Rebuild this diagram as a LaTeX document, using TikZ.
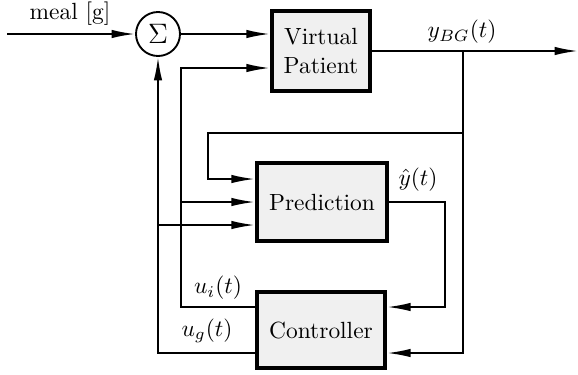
\documentclass[tikz,border=0pt]{standalone}
\usepackage{amsmath,amssymb}
\usetikzlibrary{arrows.meta,calc}

\tikzset{
  block/.style={draw, line width=1.8pt, fill=black!6, align=center, inner sep=2pt},
  sumnode/.style={draw, circle, line width=0.8pt, minimum size=0.66cm, inner sep=0pt},
  conn/.style={line width=0.8pt},
  arr/.style={conn, -{Latex[length=10pt,width=3.6pt]}},
}

\begin{document}
\begin{tikzpicture}[x=0.015cm,y=-0.015cm]
\useasboundingbox (0,0) rectangle (578,374);
% blocks
\node[sumnode] (sum) at (158,34) {\large$\Sigma$};
\node[block, minimum width=1.47cm, minimum height=1.19cm] (vp) at (321,51) {Virtual\\Patient};
\node[block, minimum width=1.95cm, minimum height=1.16cm] (pred) at (322,202) {Prediction};
\node[block, minimum width=1.92cm, minimum height=1.14cm] (ctrl) at (321,330) {Controller};

% ports
\coordinate (vpin2) at ([yshift=-0.255cm]vp.west);
\coordinate (pin1) at ([yshift=0.345cm]pred.west);
\coordinate (pin3) at ([yshift=-0.345cm]pred.west);
\coordinate (cin1) at ([yshift=0.345cm]ctrl.east);
\coordinate (cin2) at ([yshift=-0.345cm]ctrl.east);
\coordinate (cout1) at ([yshift=0.345cm]ctrl.west);
\coordinate (cout2) at ([yshift=-0.345cm]ctrl.west);
\coordinate (in) at (7,34);
\coordinate (out) at (578,51);
\coordinate (tap) at (463,51);
\coordinate (ret) at (208,133);

% labels
\node (meal) at (70,14) {meal [g]};
\node (ybg) at (462,32) {$y_{BG}(t)$};
\node[inner sep=1pt] (yhat) at (418,180) {$\hat{y}(t)$};
\node (ui) at (218,288) {$u_i(t)$};
\node (ug) at (207,331) {$u_g(t)$};

% forward path
\draw[arr] (in) -- (sum);
\draw[arr] (sum) -- (sum -| vp.west);
\draw[arr] (vp.east) -- (out);

% measured glucose back to prediction and controller
\draw[arr] (tap) |- (cin2);
\draw[arr] (tap |- ret) -- (ret) |- (pin1);

% predicted output
\draw[arr] (pred.east) -- ++(56,0) |- (cin1);

% insulin and glucagon
\draw[arr] (cout1) -- ++(-74,0) coordinate (uicol) |- (vpin2);
\draw[arr] (uicol |- pred.west) -- (pred.west);
\draw[arr] (cout2) -| (sum.south);
\draw[arr] (sum |- pin3) -- (pin3);
\end{tikzpicture}
\end{document}
